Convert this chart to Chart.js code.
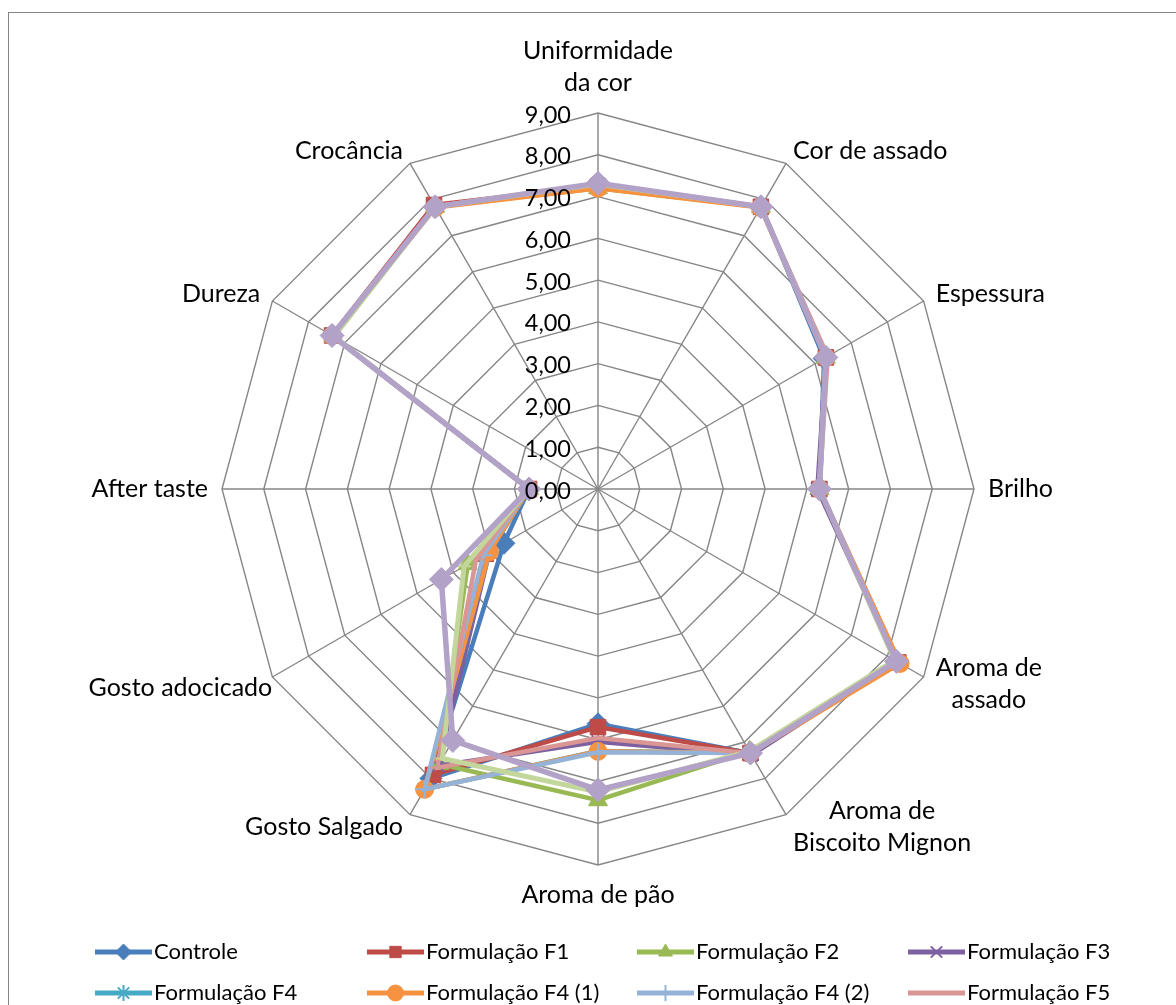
<!DOCTYPE html>
<html>
<head>
<meta charset="utf-8">
<script src="https://cdn.jsdelivr.net/npm/chart.js@4.4.1/dist/chart.umd.min.js"></script>
<style>
  html, body { margin: 0; padding: 0; background: #fff; overflow: hidden; }
  canvas { display: block; }
</style>
</head>
<body>
<canvas id="radar" width="1176" height="1005"></canvas>
<script>
// Sensory attributes (radar axes), clockwise from the top
const categories = [
  ['Uniformidade', 'da cor'], 'Cor de assado', 'Espessura', 'Brilho',
  ['Aroma de', 'assado'], ['Aroma de', 'Biscoito Mignon'], 'Aroma de pão',
  'Gosto Salgado', 'Gosto adocicado', 'After taste', 'Dureza', 'Crocância'
];
const tickLabels = ['0,00', '1,00', '2,00', '3,00', '4,00', '5,00', '6,00', '7,00', '8,00', '9,00'];

// Mean scores per formulation
const controle  = [7.30, 7.80, 6.25, 5.30, 8.25, 7.30, 5.62, 8.00, 2.60, 1.65, 7.35, 7.80];
const formF1    = [7.25, 7.80, 6.30, 5.30, 8.30, 7.30, 5.70, 7.90, 3.10, 1.65, 7.35, 7.85];
const formF2    = [7.20, 7.80, 6.30, 5.30, 8.20, 7.25, 7.45, 7.60, 3.60, 1.65, 7.30, 7.80];
const formF3    = [7.30, 7.80, 6.30, 5.25, 8.25, 7.35, 6.05, 7.65, 3.00, 1.65, 7.35, 7.80];
const formF4    = [7.30, 7.80, 6.30, 5.30, 8.25, 7.30, 6.27, 8.30, 3.00, 1.65, 7.35, 7.80];
const formF4a   = [7.20, 7.78, 6.30, 5.30, 8.35, 7.30, 6.28, 8.30, 3.00, 1.65, 7.35, 7.78];
const formF4b   = [7.30, 7.80, 6.30, 5.30, 8.25, 7.30, 6.30, 8.30, 3.17, 1.65, 7.35, 7.80];
const formF5    = [7.30, 7.80, 6.35, 5.30, 8.25, 7.30, 5.96, 7.70, 3.37, 1.65, 7.35, 7.80];
const formF6    = [7.30, 7.80, 6.30, 5.30, 8.20, 7.25, 7.25, 7.45, 3.70, 1.65, 7.30, 7.80];
const formF7    = [7.32, 7.80, 6.30, 5.30, 8.25, 7.30, 7.20, 6.95, 4.33, 1.65, 7.35, 7.80];

const seriesNames = ['Controle', 'Formulação F1', 'Formulação F2', 'Formulação F3',
  'Formulação F4', 'Formulação F4 (1)', 'Formulação F4 (2)', 'Formulação F5',
  'Formulação F6', 'Formulação F7'];
const seriesData = [controle, formF1, formF2, formF3, formF4, formF4a, formF4b, formF5, formF6, formF7];
const legendCount = 8;

const colors = ['#4A7EBB', '#BE4B48', '#98B954', '#7D60A0', '#46AAC5', '#F69240',
  '#95B3D7', '#D99694', '#C3D69B', '#B3A2C7'];
const markers = ['rectRot', 'rect', 'triangle', 'crossRot', 'star', 'circle', 'cross', 'line', 'line', 'rectRot'];
const markerSize = [11, 11, 11, 9, 9, 9, 9, 7, 7, 12];
const lineWidths = [4.5, 4.5, 4.5, 4.5, 4.5, 4.5, 4.5, 4.5, 5, 5.5];
const lineMarkers = ['crossRot', 'star', 'cross', 'line'];

const FONT = '25px Lato';
const TICK_FONT = '23.5px Lato';
const LEGEND_FONT = '22px Lato';
const GRID = '#868686';

// Outer frame of the chart object
const framePlugin = {
  id: 'frame',
  beforeDraw(chart) {
    const ctx = chart.ctx;
    ctx.save();
    ctx.strokeStyle = GRID;
    ctx.lineWidth = 1;
    ctx.strokeRect(8.5, 12.5, 1400, 1400);
    ctx.restore();
  }
};

// Value labels placed just left of the vertical axis
const tickTextPlugin = {
  id: 'tickText',
  afterDatasetsDraw(chart) {
    const s = chart.scales.r;
    const ctx = chart.ctx;
    ctx.save();
    ctx.font = TICK_FONT;
    ctx.fillStyle = '#000';
    ctx.textAlign = 'right';
    ctx.textBaseline = 'middle';
    s.ticks.forEach(t => {
      const y = s.yCenter - s.getDistanceFromCenterForValue(t.value);
      ctx.fillText(tickLabels[Math.round(t.value)], s.xCenter - 27, y + 2);
    });
    ctx.restore();
  }
};

// Category labels around the outer polygon
const labelNudge = { 8: [12, 4] };
const pointLabelPlugin = {
  id: 'axisText',
  afterDatasetsDraw(chart) {
    const s = chart.scales.r;
    const ctx = chart.ctx;
    const lh = 32;
    ctx.save();
    ctx.font = FONT;
    ctx.fillStyle = '#000';
    ctx.textBaseline = 'middle';
    categories.forEach((cat, i) => {
      const lines = Array.isArray(cat) ? cat : [cat];
      const a = s.getIndexAngle(i);
      const sn = Math.sin(a), cs = Math.cos(a);
      const q = s.getPointPosition(i, s.drawingArea + 14);
      const nudge = labelNudge[i] || [0, 0];
      const w = Math.max(...lines.map(l => ctx.measureText(l).width));
      const h = lines.length * lh;
      let cx, top;
      if (sn > 0.05) cx = q.x + w / 2;
      else if (sn < -0.05) cx = q.x - w / 2;
      else cx = q.x;
      if (Math.abs(sn) <= 0.05) top = cs > 0 ? q.y - h : q.y;
      else top = q.y - h / 2;
      cx += nudge[0]; top += nudge[1];
      ctx.textAlign = 'center';
      lines.forEach((l, k) => ctx.fillText(l, cx, top + lh * k + lh / 2));
    });
    ctx.restore();
  }
};

// Two-row legend in four columns
const legendPlugin = {
  id: 'gridLegend',
  afterDraw(chart) {
    const ctx = chart.ctx;
    const colX = [95, 367, 637, 908];
    const rowY = [952, 993];
    ctx.save();
    for (let i = 0; i < legendCount; i++) {
      const ds = chart.data.datasets[i];
      const x0 = colX[i % 4], y = rowY[Math.floor(i / 4)];
      ctx.strokeStyle = ds.borderColor;
      ctx.lineWidth = 5;
      ctx.lineCap = 'butt';
      ctx.beginPath();
      ctx.moveTo(x0, y);
      ctx.lineTo(x0 + 57, y);
      ctx.stroke();
      ctx.fillStyle = ds.pointBackgroundColor;
      ctx.strokeStyle = ds.pointBorderColor;
      ctx.lineWidth = ds.pointBorderWidth;
      Chart.helpers.drawPoint(ctx, {
        pointStyle: ds.pointStyle, radius: 8, rotation: 0, borderWidth: ds.pointBorderWidth
      }, x0 + 28.5, y);
      ctx.font = LEGEND_FONT;
      ctx.fillStyle = '#000';
      ctx.textAlign = 'left';
      ctx.textBaseline = 'middle';
      ctx.fillText(ds.label, x0 + 59, y);
    }
    ctx.restore();
  }
};

const datasets = seriesData.map((d, i) => ({
  label: seriesNames[i],
  data: d,
  borderColor: colors[i],
  backgroundColor: colors[i],
  pointBackgroundColor: colors[i],
  pointBorderColor: colors[i],
  pointStyle: markers[i],
  pointRadius: markerSize[i],
  pointBorderWidth: lineMarkers.includes(markers[i]) ? 2 : 1,
  borderWidth: lineWidths[i],
  fill: false,
  tension: 0,
  order: seriesData.length - i
}));

new Chart(document.getElementById('radar'), {
  type: 'radar',
  data: { labels: categories, datasets },
  options: {
    responsive: false,
    devicePixelRatio: 1,
    animation: false,
    layout: { padding: { left: 222, right: 202, top: 113, bottom: 140 } },
    plugins: { legend: { display: false }, tooltip: { enabled: false } },
    elements: { line: { borderJoinStyle: 'miter' } },
    scales: {
      r: {
        min: 0,
        max: 9,
        beginAtZero: true,
        ticks: { stepSize: 1, display: false },
        grid: { color: GRID, lineWidth: 1.4, circular: false },
        angleLines: { color: GRID, lineWidth: 1.4 },
        pointLabels: { display: false }
      }
    }
  },
  plugins: [framePlugin, tickTextPlugin, pointLabelPlugin, legendPlugin]
});
</script>
</body>
</html>
